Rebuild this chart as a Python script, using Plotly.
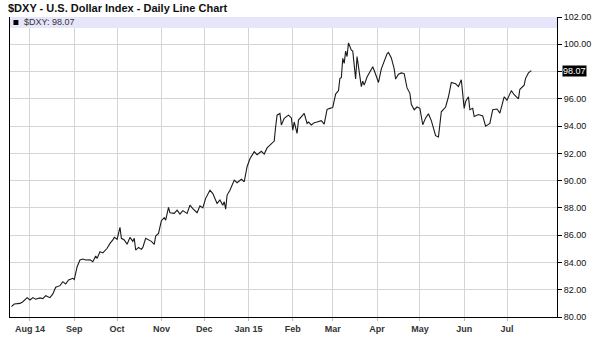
import plotly.graph_objects as go

dates = [
    "2014-07-19", "2014-07-21", "2014-07-25", "2014-07-27", "2014-07-30", "2014-08-01", "2014-08-03",
    "2014-08-05", "2014-08-08", "2014-08-10", "2014-08-12", "2014-08-15", "2014-08-17", "2014-08-19",
    "2014-08-22", "2014-08-24", "2014-08-26", "2014-08-28", "2014-08-31", "2014-09-01", "2014-09-03",
    "2014-09-05", "2014-09-07", "2014-09-09", "2014-09-12", "2014-09-14", "2014-09-16", "2014-09-17",
    "2014-09-19", "2014-09-21", "2014-09-24", "2014-09-26", "2014-09-28", "2014-09-29", "2014-10-01",
    "2014-10-03", "2014-10-04", "2014-10-06", "2014-10-08", "2014-10-10", "2014-10-12", "2014-10-13",
    "2014-10-14", "2014-10-16", "2014-10-18", "2014-10-19", "2014-10-21", "2014-10-23", "2014-10-25",
    "2014-10-27", "2014-10-28", "2014-10-30", "2014-11-01", "2014-11-03", "2014-11-04", "2014-11-06",
    "2014-11-07", "2014-11-10", "2014-11-12", "2014-11-14", "2014-11-16", "2014-11-19", "2014-11-21",
    "2014-11-23", "2014-11-26", "2014-11-28", "2014-11-30", "2014-12-02", "2014-12-03", "2014-12-05",
    "2014-12-07", "2014-12-10", "2014-12-12", "2014-12-14", "2014-12-15", "2014-12-16", "2014-12-17",
    "2014-12-19", "2014-12-22", "2014-12-24", "2014-12-27", "2014-12-29", "2014-12-31", "2015-01-02",
    "2015-01-05", "2015-01-07", "2015-01-10", "2015-01-12", "2015-01-14", "2015-01-16", "2015-01-17",
    "2015-01-19", "2015-01-20", "2015-01-21", "2015-01-23", "2015-01-24", "2015-01-26", "2015-01-29",
    "2015-01-31", "2015-02-01", "2015-02-02", "2015-02-04", "2015-02-05", "2015-02-07", "2015-02-09",
    "2015-02-11", "2015-02-12", "2015-02-14", "2015-02-16", "2015-02-18", "2015-02-21", "2015-02-23",
    "2015-02-25", "2015-02-27", "2015-03-01", "2015-03-03", "2015-03-05", "2015-03-06", "2015-03-07",
    "2015-03-08", "2015-03-09", "2015-03-10", "2015-03-11", "2015-03-12", "2015-03-14", "2015-03-15",
    "2015-03-17", "2015-03-18", "2015-03-20", "2015-03-21", "2015-03-22", "2015-03-23", "2015-03-25",
    "2015-03-27", "2015-03-29", "2015-03-31", "2015-04-02", "2015-04-04", "2015-04-06", "2015-04-08",
    "2015-04-09", "2015-04-11", "2015-04-13", "2015-04-14", "2015-04-16", "2015-04-18", "2015-04-20",
    "2015-04-21", "2015-04-22", "2015-04-24", "2015-04-25", "2015-04-27", "2015-04-29", "2015-05-01",
    "2015-05-03", "2015-05-05", "2015-05-07", "2015-05-09", "2015-05-12", "2015-05-14", "2015-05-16",
    "2015-05-19", "2015-05-21", "2015-05-23", "2015-05-26", "2015-05-28", "2015-05-30", "2015-06-01",
    "2015-06-02", "2015-06-04", "2015-06-05", "2015-06-07", "2015-06-08", "2015-06-11", "2015-06-14",
    "2015-06-16", "2015-06-19", "2015-06-21", "2015-06-24", "2015-06-26", "2015-06-29", "2015-07-01",
    "2015-07-04", "2015-07-06", "2015-07-09", "2015-07-10", "2015-07-13", "2015-07-14", "2015-07-16",
    "2015-07-18",
]
values = [
    80.76, 80.95, 81.00, 81.12, 81.42, 81.25, 81.42,
    81.30, 81.40, 81.35, 81.56, 81.42, 81.69, 82.18,
    82.30, 82.59, 82.42, 82.71, 82.84, 82.75, 83.69,
    84.18, 84.25, 84.18, 84.20, 84.05, 84.47, 84.30,
    84.79, 84.70, 85.04, 85.40, 85.65, 85.84, 85.70,
    86.58, 85.77, 85.65, 85.33, 85.84, 85.55, 85.77,
    84.91, 85.10, 84.96, 85.10, 85.77, 85.65, 85.55,
    85.33, 85.94, 86.13, 87.06, 87.28, 87.10, 88.04,
    87.65, 87.60, 87.84, 87.55, 87.80, 87.60, 88.20,
    87.95, 87.65, 88.15, 88.00, 88.70, 88.94, 89.30,
    89.05, 88.33, 88.58, 88.20, 88.45, 87.90, 88.94,
    89.30, 90.04, 89.85, 90.10, 89.92, 91.02, 91.60,
    92.12, 91.90, 92.15, 91.95, 92.40, 92.60, 92.70,
    92.90, 93.95, 94.80, 94.93, 94.08, 94.57, 94.80,
    94.60, 93.70, 94.30, 93.47, 94.44, 94.68, 94.93,
    94.20, 94.30, 94.08, 94.25, 94.30, 94.40, 94.15,
    95.23, 95.30, 95.37, 96.35, 96.60, 97.50, 97.55,
    98.97, 98.60, 99.50, 99.10, 100.10, 99.57, 99.50,
    97.45, 99.10, 97.80, 96.90, 97.30, 97.00, 97.60,
    98.00, 98.35, 97.80, 97.20, 98.20, 98.70, 99.30,
    99.40, 99.00, 98.20, 97.45, 97.80, 97.90, 97.85,
    97.20, 96.80, 96.40, 95.60, 95.20, 95.40, 95.30,
    94.10, 94.60, 94.90, 94.40, 93.30, 93.20, 95.05,
    95.40, 96.15, 97.20, 97.10, 96.90, 97.40, 95.30,
    95.80, 96.15, 95.20, 95.30, 94.70, 94.85, 94.75,
    94.00, 94.20, 95.20, 95.25, 94.95, 96.15, 95.90,
    96.60, 96.30, 96.00, 96.70, 97.00, 97.50, 97.90,
    98.07,
]

month_ticks = ["2014-08-01", "2014-09-01", "2014-10-01", "2014-11-01", "2014-12-01", "2015-01-01",
               "2015-02-01", "2015-03-01", "2015-04-01", "2015-05-01", "2015-06-01", "2015-07-01"]
month_labels = ["Aug 14", "Sep", "Oct", "Nov", "Dec", "Jan 15", "Feb", "Mar", "Apr", "May", "Jun", "Jul"]

y_ticks = [80, 82, 84, 86, 88, 90, 92, 94, 96, 98, 100, 102]
y_labels = ["80.00", "82.00", "84.00", "86.00", "88.00", "90.00", "92.00", "94.00", "96.00", "", "100.00", "102.00"]

symbol = "$DXY"
last_value = "98.07"

fig = go.Figure()
fig.add_trace(go.Scatter(x=dates, y=values, mode="lines",
                         line=dict(color="#1a1a1a", width=1.1), hoverinfo="skip"))

font = "Liberation Sans, Arial, sans-serif"

fig.update_layout(
    width=600, height=352,
    margin=dict(l=9, r=37, t=17, b=35),
    paper_bgcolor="white", plot_bgcolor="white",
    showlegend=False,
    font=dict(family=font, size=9, color="#000"),
    title=dict(text="<b>" + symbol + " - U.S. Dollar Index - Daily Line Chart</b>",
               x=8 / 600, xref="container", xanchor="left",
               y=1 - 8.5 / 352, yref="container", yanchor="middle",
               font=dict(family=font, size=11, color="#111")),
    xaxis=dict(type="date", range=["2014-07-18", "2015-08-05"],
               tickvals=month_ticks, ticktext=["<b>" + t + "</b>" for t in month_labels],
               showgrid=True, gridcolor="#d4d4d4", gridwidth=1,
               showline=True, linecolor="#000", linewidth=1,
               ticks="outside", ticklen=3, tickcolor="#bbb",
               tickfont=dict(family=font, size=9, color="#333"),
               zeroline=False),
    yaxis=dict(range=[80, 102], side="right",
               tickvals=y_ticks, ticktext=y_labels,
               showgrid=True, gridcolor="#d4d4d4", gridwidth=1,
               showline=True, linecolor="#000", linewidth=1, mirror=True,
               ticks="outside", ticklen=4, tickcolor="#000",
               tickfont=dict(family=font, size=9, color="#111"),
               zeroline=False),
)

# legend band
fig.add_shape(type="rect", xref="paper", yref="paper", x0=0, x1=1, y0=1 - 11 / 300, y1=1,
              fillcolor="#e6e6fa", line=dict(width=0), layer="above")
fig.add_shape(type="rect", xref="paper", yref="paper",
              x0=3.5 / 554, x1=8.5 / 554, y0=(317 - 25) / 300, y1=(317 - 20) / 300,
              fillcolor="#000", line=dict(width=0), layer="above")
fig.add_annotation(xref="paper", yref="paper", x=12 / 554, y=(317 - 22.5) / 300,
                   xanchor="left", yanchor="middle", showarrow=False,
                   text=symbol + ": " + last_value, font=dict(family=font, size=9, color="#333"))

# last value marker on the axis
fig.add_annotation(xref="paper", yref="y", x=1, y=float(last_value), xshift=5,
                   xanchor="left", yanchor="middle", showarrow=False,
                   text=last_value, bgcolor="#000", borderpad=0,
                   font=dict(family=font, size=9, color="#fff"))

fig.write_html("out.html")
